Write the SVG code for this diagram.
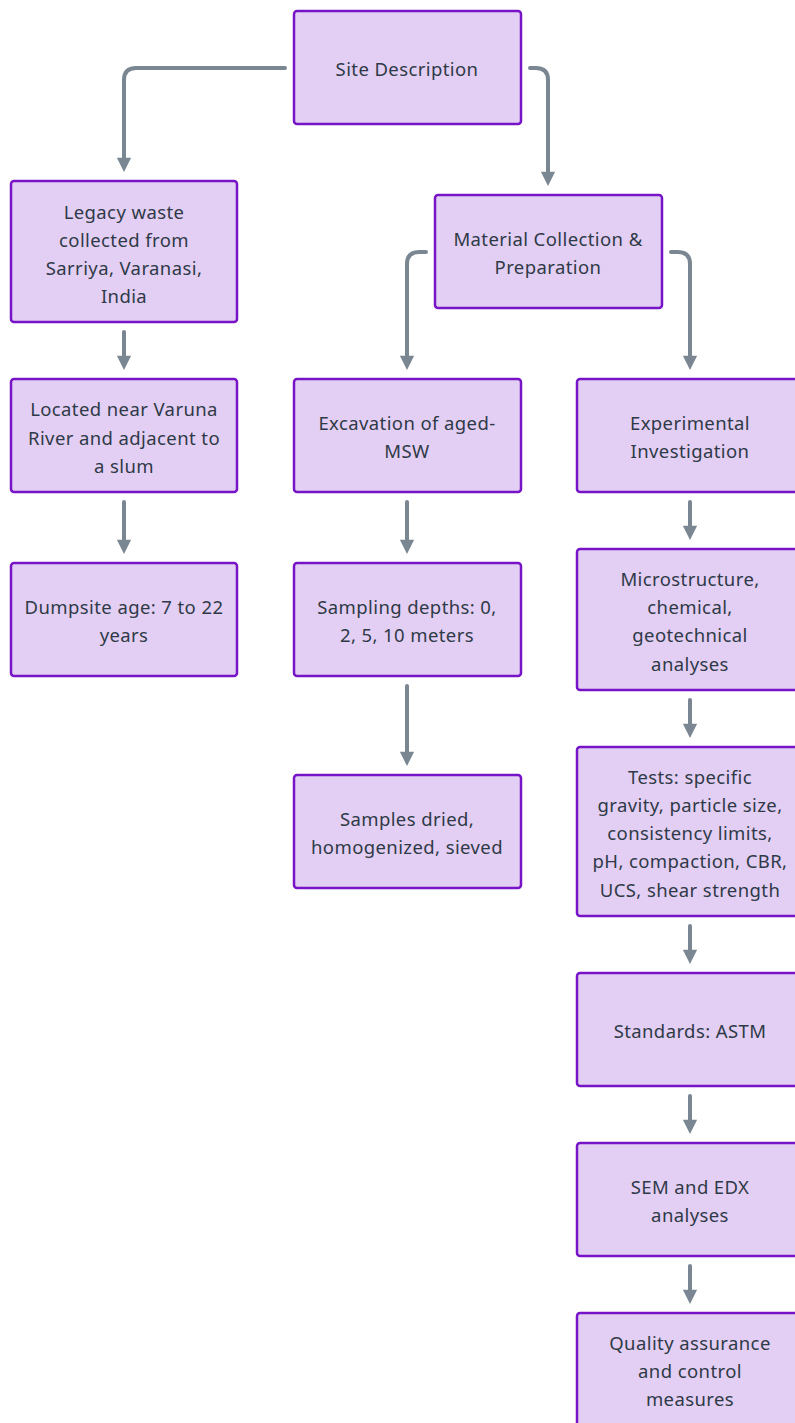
<svg xmlns="http://www.w3.org/2000/svg" width="795" height="1423" viewBox="0 0 795 1423">
<defs>
<style>
.n rect{fill:#E3CFF3;stroke:#7714C7;stroke-width:2.5}
.n text{font-family:"Noto Sans","Liberation Sans",sans-serif;font-size:18.5px;letter-spacing:0.4px;fill:#2F3A48;text-anchor:middle;dominant-baseline:central}
.c path{fill:none;stroke:#7A8793;stroke-width:4;stroke-linecap:round;marker-end:url(#ah)}
</style>
<marker id="ah" viewBox="0 0 10 10" refX="3" refY="5" markerWidth="4" markerHeight="3.6" orient="auto" markerUnits="strokeWidth">
<path d="M0,0 L10,5 L0,10 z" fill="#7A8793"/>
</marker>
</defs>
<rect width="795" height="1423" fill="#fff"/>
<g id="connectors" class="c">
<path d="M285,68 H136 Q124,68 124,80 V162"/>
<path d="M530,68 H536 Q548,68 548,80 V176"/>
<path d="M426,252 H419 Q407,252 407,264 V360"/>
<path d="M671,252 H678 Q690,252 690,264 V360"/>
<path d="M124,332 V360"/>
<path d="M124,502 V544"/>
<path d="M407,502 V544"/>
<path d="M407,686 V756"/>
<path d="M690,502 V530"/>
<path d="M690,700 V728"/>
<path d="M690,926 V954"/>
<path d="M690,1096 V1124"/>
<path d="M690,1266 V1294"/>
</g>
<g id="site" class="n"><rect x="294" y="11" width="227" height="113" rx="3"/><text x="407" y="68">Site Description</text></g>
<g id="legacy" class="n"><rect x="11" y="181" width="226" height="141" rx="3"/><text x="124" y="211">Legacy waste</text><text x="124" y="239">collected from</text><text x="124" y="267">Sarriya, Varanasi,</text><text x="124" y="295">India</text></g>
<g id="material" class="n"><rect x="435" y="195" width="227" height="113" rx="3"/><text x="548" y="238">Material Collection &amp;</text><text x="548" y="266">Preparation</text></g>
<g id="located" class="n"><rect x="11" y="379" width="226" height="113" rx="3"/><text x="124" y="408">Located near Varuna</text><text x="124" y="437">River and adjacent to</text><text x="124" y="465">a slum</text></g>
<g id="excavation" class="n"><rect x="294" y="379" width="227" height="113" rx="3"/><text x="407" y="422">Excavation of aged-</text><text x="407" y="450">MSW</text></g>
<g id="experimental" class="n"><rect x="577" y="379" width="227" height="113" rx="3"/><text x="690" y="422">Experimental</text><text x="690" y="450">Investigation</text></g>
<g id="dumpsite" class="n"><rect x="11" y="563" width="226" height="113" rx="3"/><text x="124" y="606">Dumpsite age: 7 to 22</text><text x="124" y="634">years</text></g>
<g id="sampling" class="n"><rect x="294" y="563" width="227" height="113" rx="3"/><text x="407" y="606">Sampling depths: 0,</text><text x="407" y="634">2, 5, 10 meters</text></g>
<g id="micro" class="n"><rect x="577" y="549" width="227" height="141" rx="3"/><text x="690" y="578">Microstructure,</text><text x="690" y="606">chemical,</text><text x="690" y="634">geotechnical</text><text x="690" y="663">analyses</text></g>
<g id="dried" class="n"><rect x="294" y="775" width="227" height="113" rx="3"/><text x="407" y="818">Samples dried,</text><text x="407" y="846">homogenized, sieved</text></g>
<g id="tests" class="n"><rect x="577" y="747" width="227" height="169" rx="3"/><text x="690" y="776">Tests: specific</text><text x="690" y="804">gravity, particle size,</text><text x="690" y="832">consistency limits,</text><text x="690" y="860">pH, compaction, CBR,</text><text x="690" y="889">UCS, shear strength</text></g>
<g id="standards" class="n"><rect x="577" y="973" width="227" height="113" rx="3"/><text x="690" y="1030">Standards: ASTM</text></g>
<g id="sem" class="n"><rect x="577" y="1143" width="227" height="113" rx="3"/><text x="690" y="1186">SEM and EDX</text><text x="690" y="1214">analyses</text></g>
<g id="quality" class="n"><rect x="577" y="1313" width="227" height="113" rx="3"/><text x="690" y="1342">Quality assurance</text><text x="690" y="1370">and control</text><text x="690" y="1398">measures</text></g>
</svg>
